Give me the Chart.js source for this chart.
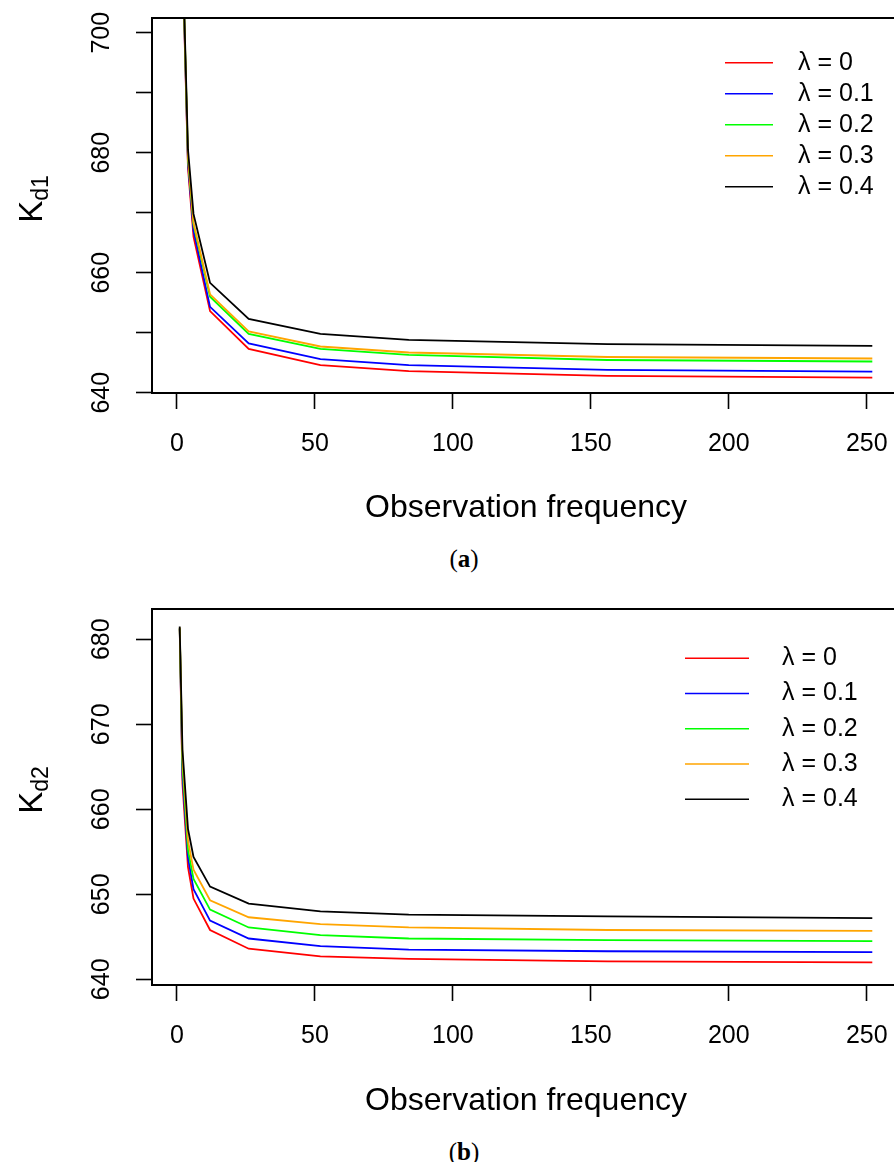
<!DOCTYPE html>
<html><head><meta charset="utf-8">
<script src="https://cdn.jsdelivr.net/npm/chart.js@4.4.1/dist/chart.umd.min.js"></script>
<style>
html,body{margin:0;padding:0;background:#fff;overflow:hidden;width:894px;height:1162px;}
.wrap{position:absolute;left:0;}
canvas{display:block;}
.cap{position:absolute;font-family:"Liberation Serif","Times New Roman",serif;font-size:25px;line-height:1;color:#000;transform:translate(-50%,-50%);white-space:nowrap;}
</style></head><body>
<div class="wrap" style="top:0px"><canvas id="ca" width="920" height="540"></canvas></div>
<div class="wrap" style="top:590px"><canvas id="cb" width="920" height="545"></canvas></div>
<div class="cap" style="left:464px;top:558px">(<b>a</b>)</div>
<div class="cap" style="left:464px;top:1151px">(<b>b</b>)</div>
<script>
// ---------- data ----------
const frequency = [1, 2, 4, 6, 12, 26, 52, 84, 156, 252];
const seriesLabels = ['λ = 0', 'λ = 0.1', 'λ = 0.2', 'λ = 0.3', 'λ = 0.4'];
const seriesColors = ['#FF0000', '#0000FF', '#00FF00', '#FFA500', '#000000'];

// (a) K_d1
const kd1_l00 = [760, 713.0, 677.5, 666.0, 653.6, 647.3, 644.6, 643.6, 642.8, 642.5];
const kd1_l01 = [760, 713.5, 678.3, 667.0, 654.3, 648.2, 645.6, 644.6, 643.8, 643.5];
const kd1_l02 = [760, 714.0, 679.0, 668.0, 656.0, 649.8, 647.3, 646.3, 645.45, 645.2];
const kd1_l03 = [760, 714.0, 679.3, 668.3, 656.4, 650.2, 647.7, 646.7, 645.95, 645.7];
const kd1_l04 = [761, 714.5, 680.5, 669.8, 658.3, 652.3, 649.8, 648.8, 648.1, 647.8];

// (b) K_d2
const kd2_l00 = [681.2, 663.0, 653.2, 649.5, 645.8, 643.6, 642.7, 642.4, 642.1, 642.0];
const kd2_l01 = [681.3, 664.0, 654.3, 650.6, 646.9, 644.8, 643.9, 643.5, 643.3, 643.2];
const kd2_l02 = [681.3, 665.0, 655.2, 651.8, 648.2, 646.1, 645.2, 644.8, 644.6, 644.5];
const kd2_l03 = [681.4, 666.0, 656.3, 652.9, 649.3, 647.3, 646.5, 646.1, 645.8, 645.7];
const kd2_l04 = [681.5, 667.0, 657.7, 654.4, 650.9, 648.9, 648.0, 647.6, 647.4, 647.2];

const xTickValues = [0, 50, 100, 150, 200, 250];
const yTickValuesA = [640, 650, 660, 670, 680, 690, 700];
const yTickLabelsA = ['640', '', '660', '', '680', '', '700'];
const yTickValuesB = [640, 650, 660, 670, 680];
const yTickLabelsB = ['640', '650', '660', '670', '680'];

const FONT = '"Liberation Sans", Arial, Helvetica, sans-serif';

function makeDatasets(seriesList) {
  return seriesList.map((vals, i) => ({
    label: seriesLabels[i],
    data: frequency.map((f, j) => ({x: f, y: vals[j]})),
    borderColor: seriesColors[i],
    backgroundColor: seriesColors[i],
    borderWidth: 1.8,
    pointRadius: 0,
    tension: 0,
    fill: false,
    order: seriesList.length - 1 - i
  }));
}

const decorPlugin = {
  id: 'decor',
  afterDraw(chart, args, o) {
    const ctx = chart.ctx;
    const a = chart.chartArea;
    ctx.save();
    // box
    ctx.strokeStyle = '#000';
    ctx.lineWidth = 2;
    ctx.strokeRect(a.left, a.top, a.right - a.left, a.bottom - a.top);
    // legend
    ctx.font = '25px ' + FONT;
    ctx.textBaseline = 'middle';
    ctx.textAlign = 'left';
    chart.data.datasets.forEach((ds, i) => {
      const y = o.legY0 + i * o.legDy;
      ctx.strokeStyle = ds.borderColor;
      ctx.lineWidth = 1.6;
      ctx.beginPath();
      ctx.moveTo(o.legX0, y);
      ctx.lineTo(o.legX1, y);
      ctx.stroke();
      ctx.fillStyle = '#000';
      ctx.fillText(ds.label, o.legTextX, y);
    });
    // y title K_d
    ctx.translate(0, o.yTitleY);
    ctx.rotate(-Math.PI / 2);
    ctx.fillStyle = '#000';
    ctx.textBaseline = 'alphabetic';
    ctx.font = '33px ' + FONT;
    const wK = ctx.measureText('K').width;
    ctx.font = '23px ' + FONT;
    const wS = ctx.measureText(o.ySub).width;
    const start = -(wK + wS) / 2;
    ctx.font = '33px ' + FONT;
    ctx.fillText('K', start, o.yTitleBase);
    ctx.font = '23px ' + FONT;
    ctx.fillText(o.ySub, start + wK, o.yTitleBase + 6);
    ctx.restore();
  }
};

function makeChart(id, seriesList, cfg) {
  return new Chart(document.getElementById(id), {
    type: 'line',
    data: {datasets: makeDatasets(seriesList)},
    plugins: [decorPlugin],
    options: {
      responsive: false,
      animation: false,
      layout: {padding: {top: cfg.padTop, left: 0, right: 20, bottom: 0}},
      plugins: {
        legend: {display: false},
        tooltip: {enabled: false},
        decor: cfg.decor
      },
      scales: {
        x: {
          type: 'linear',
          min: -9.04, max: 262.04,
          afterBuildTicks: s => { s.ticks = xTickValues.map(v => ({value: v})); },
          afterFit: s => { s.height = cfg.xHeight; s.paddingLeft = 0; s.paddingRight = 0; },
          grid: {drawOnChartArea: false, drawTicks: true, tickLength: 16, tickColor: '#000', tickWidth: 1.6},
          border: {display: true, color: '#000', width: 2},
          ticks: {autoSkip: false, maxRotation: 0, minRotation: 0, padding: 20, color: '#000',
                  font: {size: 25, family: FONT}},
          title: {display: true, text: 'Observation frequency', color: '#000',
                  font: {size: 32, family: FONT}, padding: {top: 0, bottom: cfg.titlePadBottom}}
        },
        y: {
          type: 'linear',
          min: cfg.yMin, max: cfg.yMax,
          afterBuildTicks: s => { s.ticks = cfg.yTicks.map(v => ({value: v})); },
          afterFit: s => { s.width = 152; s.paddingTop = 0; s.paddingBottom = 0; },
          grid: {drawOnChartArea: false, drawTicks: true, tickLength: 16, tickColor: '#000', tickWidth: 1.6},
          border: {display: true, color: '#000', width: 2},
          ticks: {autoSkip: false, minRotation: 90, maxRotation: 90, crossAlign: 'center', padding: 12.6,
                  color: '#000', font: {size: 25, family: FONT},
                  callback: (v, i) => cfg.yLabels[i]}
        }
      }
    }
  });
}

makeChart('ca', [kd1_l00, kd1_l01, kd1_l02, kd1_l03, kd1_l04], {
  padTop: 18, xHeight: 147, titlePadBottom: 12.8,
  yMin: 639.95, yMax: 702.45, yTicks: yTickValuesA, yLabels: yTickLabelsA,
  decor: {legX0: 725, legX1: 773, legTextX: 798, legY0: 62.7, legDy: 31,
          yTitleY: 199, yTitleBase: 42, ySub: 'd1'}
});

makeChart('cb', [kd2_l00, kd2_l01, kd2_l02, kd2_l03, kd2_l04], {
  padTop: 19, xHeight: 150, titlePadBottom: 14.8,
  yMin: 639.33, yMax: 683.56, yTicks: yTickValuesB, yLabels: yTickLabelsB,
  decor: {legX0: 685, legX1: 749, legTextX: 782, legY0: 68.3, legDy: 35.25,
          yTitleY: 200, yTitleBase: 42, ySub: 'd2'}
});
</script>
</body></html>
